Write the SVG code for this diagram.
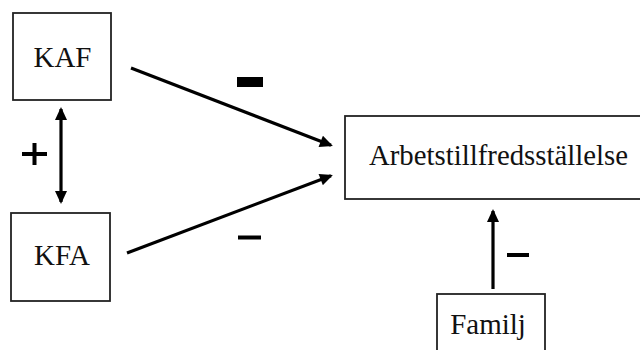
<svg xmlns="http://www.w3.org/2000/svg" width="640" height="350" viewBox="0 0 640 350">
<style>
.box{fill:#fff;stroke:#222;stroke-width:1.8}
.lbl{font-family:"Liberation Serif","Times New Roman",serif;font-size:29px;fill:#111;text-anchor:middle}
.con{stroke:#000;stroke-width:3.2;fill:none}
.sign{fill:#000}
</style>
<defs>
<marker id="ah" markerUnits="userSpaceOnUse" markerWidth="14" markerHeight="12" viewBox="0 0 13 12" refX="11" refY="6" orient="auto-start-reverse">
<path d="M0,0 L13,6 L0,12 z" fill="#000"/>
</marker>
</defs>
<rect width="640" height="350" fill="#fff"/>
<g id="node-kaf">
<rect class="box" x="13" y="13" width="98" height="87"/>
<text class="lbl" x="62.5" y="67">KAF</text>
</g>
<g id="node-kfa">
<rect class="box" x="11" y="213" width="99" height="88"/>
<text class="lbl" x="62" y="265">KFA</text>
</g>
<g id="node-arbets">
<rect class="box" x="345" y="116" width="310" height="83"/>
<text class="lbl" x="498.5" y="165" textLength="259" lengthAdjust="spacingAndGlyphs">Arbetstillfredsställelse</text>
</g>
<g id="node-familj">
<rect class="box" x="437" y="294" width="108" height="70"/>
<text class="lbl" x="488" y="334">Familj</text>
</g>
<g id="connectors">
<line class="con" x1="131" y1="68" x2="331" y2="145.3" marker-end="url(#ah)"/>
<line class="con" x1="127" y1="253" x2="331" y2="175.7" marker-end="url(#ah)"/>
<line class="con" x1="61" y1="109" x2="61" y2="202" marker-start="url(#ah)" marker-end="url(#ah)"/>
<line class="con" x1="493" y1="289" x2="493" y2="211" marker-end="url(#ah)"/>
<rect class="sign" x="237" y="77" width="26" height="10"/>
<rect class="sign" x="238" y="235.5" width="23" height="4"/>
<rect class="sign" x="507" y="253" width="22" height="4"/>
<path d="M22,154 H47 M34.5,143 V165" stroke="#000" stroke-width="4" fill="none"/>
</g>
</svg>
